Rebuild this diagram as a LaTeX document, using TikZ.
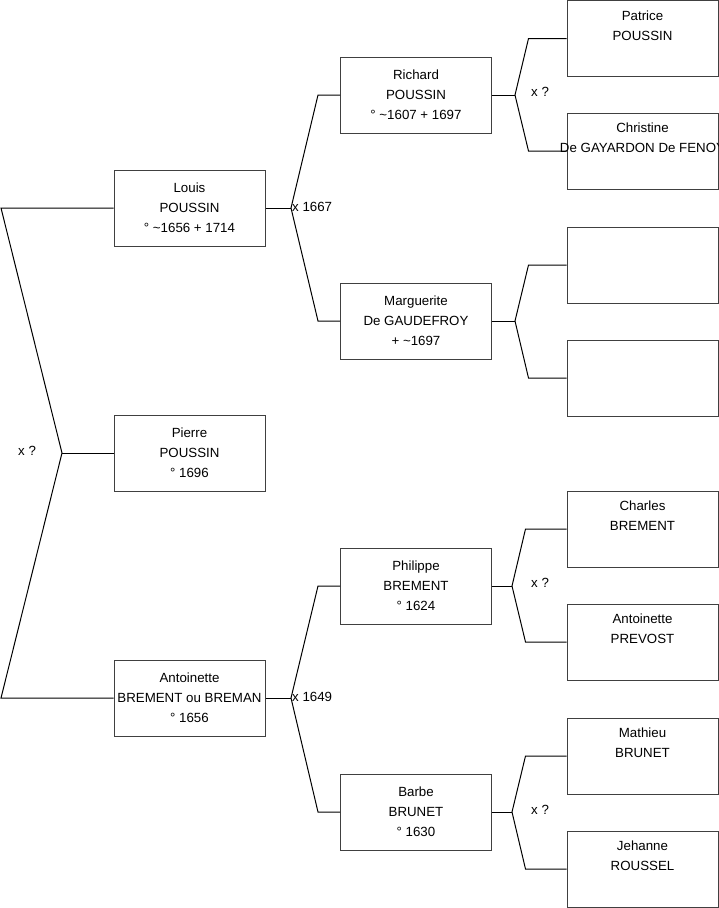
\documentclass[tikz,border=0pt]{standalone}
\usepackage{fontspec}
\setmainfont{Liberation Sans}
\usetikzlibrary{calc}
\tikzset{
  person/.style={draw=black!75, line width=1pt, minimum width=151pt, minimum height=76pt, inner sep=0pt},
  txt/.style={align=center, inner sep=0pt, font=\fontsize{13.3}{20}\selectfont},
  lbl/.style={anchor=west, inner sep=0pt, font=\fontsize{13.3}{16}\selectfont},
  link/.style={draw=black, line width=1pt, line join=miter}
}
\newcommand{\pers}[3]{\node[person, label={[txt]center:{#3}}] (#1) at #2 {};}
\begin{document}
\begin{tikzpicture}[x=1pt, y=-1pt]
\useasboundingbox (0,0) rectangle (719,908);
% level 1
\pers{louis}{(189.5,208)}{Louis\\POUSSIN\\° \textasciitilde1656 + 1714}
\pers{pierre}{(189.5,453)}{Pierre\\POUSSIN\\° 1696}
\pers{anto}{(189.5,698)}{Antoinette\\BREMENT ou BREMAN\\° 1656}
% level 2
\pers{richard}{(416,95)}{Richard\\POUSSIN\\° \textasciitilde1607 + 1697}
\pers{marg}{(416,321)}{Marguerite\\De GAUDEFROY\\+ \textasciitilde1697}
\pers{phil}{(416,586)}{Philippe\\BREMENT\\° 1624}
\pers{barbe}{(416,812)}{Barbe\\BRUNET\\° 1630}
% level 3
\pers{patrice}{(642.5,38.5)}{Patrice\\POUSSIN\\\strut}
\pers{christine}{(642.5,151)}{Christine\\De GAYARDON De FENOY\\\strut}
\pers{e1}{(642.5,265)}{}
\pers{e2}{(642.5,378)}{}
\pers{charles}{(642.5,529)}{Charles\\BREMENT\\\strut}
\pers{antop}{(642.5,642)}{Antoinette\\PREVOST\\\strut}
\pers{mathieu}{(642.5,756)}{Mathieu\\BRUNET\\\strut}
\pers{jehanne}{(642.5,869)}{Jehanne\\ROUSSEL\\\strut}
% root fork
\coordinate (rt) at (1,208);
\coordinate (rb) at (1,698);
\coordinate (rv) at (62,453);
\draw[link] (louis.west) -- (rt) -- (rv) -- (rb) -- (anto.west);
\draw[link] (rv) -- (pierre.west);
\node[lbl] (m0) at (18,451) {x ?};
% level1 -> level2
\coordinate (v1) at (291,208);
\draw[link] (louis.east) -- (v1);
\draw[link] (richard.west) -- ++(-22,0) -- (v1) -- ($(marg.west)+(-22,0)$) -- (marg.west);
\node[lbl] (m1) at (292,207) {x 1667};
\coordinate (v2) at (291,698);
\draw[link] (anto.east) -- (v2);
\draw[link] (phil.west) -- ++(-22,0) -- (v2) -- ($(barbe.west)+(-22,0)$) -- (barbe.west);
\node[lbl] (m2) at (292,697) {x 1649};
% level2 -> level3
\coordinate (v3) at (515,95);
\draw[link] (richard.east) -- (v3);
\draw[link] (patrice.west) -- ++(-38,0) -- (v3) -- ($(christine.west)+(-38,0)$) -- (christine.west);
\node[lbl] (m3) at (531,92) {x ?};
\coordinate (v4) at (515,321);
\draw[link] (marg.east) -- (v4);
\draw[link] (e1.west) -- ++(-38,0) -- (v4) -- ($(e2.west)+(-38,0)$) -- (e2.west);
\coordinate (v5) at (512,586);
\draw[link] (phil.east) -- (v5);
\draw[link] (charles.west) -- ++(-41,0) -- (v5) -- ($(antop.west)+(-41,0)$) -- (antop.west);
\node[lbl] (m4) at (531,583) {x ?};
\coordinate (v6) at (512,812);
\draw[link] (barbe.east) -- (v6);
\draw[link] (mathieu.west) -- ++(-41,0) -- (v6) -- ($(jehanne.west)+(-41,0)$) -- (jehanne.west);
\node[lbl] (m5) at (531,810) {x ?};
\end{tikzpicture}
\end{document}
